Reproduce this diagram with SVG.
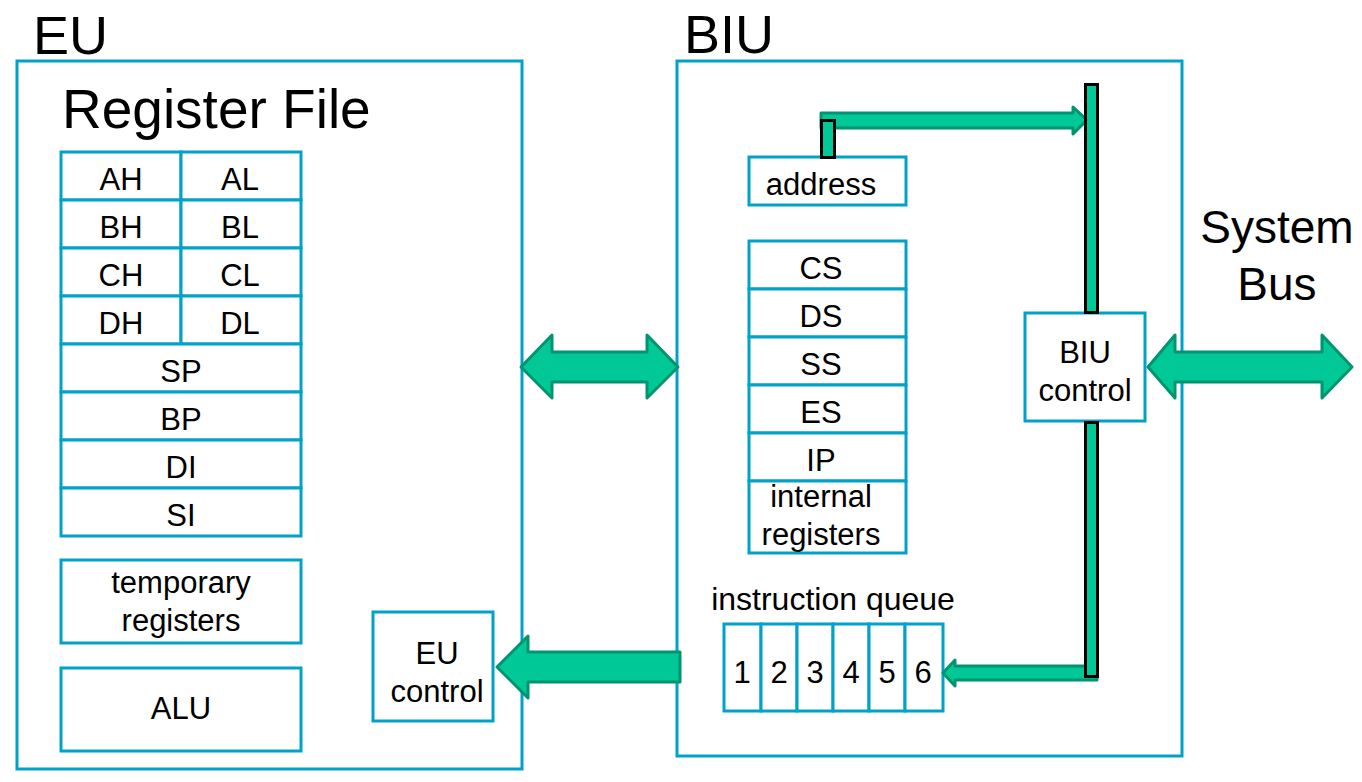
<svg xmlns="http://www.w3.org/2000/svg" width="1362" height="782" viewBox="0 0 1362 782">
<style>
.box{fill:#fff;stroke:#00A2C8;stroke-width:3}
.t{font-family:"Liberation Sans",Arial,sans-serif;font-size:31px;fill:#000;text-anchor:middle}
.big{font-family:"Liberation Sans",Arial,sans-serif;font-size:54px;fill:#000}
.arr{fill:#00C896;stroke:#009470;stroke-width:3;stroke-linejoin:round}
.bus{fill:#00C896;stroke:#000;stroke-width:3}
</style>
<rect width="1362" height="782" fill="#fff"/>
<g id="eu">
<rect class="box" x="17" y="61" width="505" height="708"/>
<text class="big" x="33" y="54">EU</text>
<text class="big" x="62" y="128" style="font-size:55px">Register File</text>
</g>
<g id="biu">
<rect class="box" x="677" y="61" width="505" height="695"/>
<text class="big" x="684" y="53">BIU</text>
</g>
<g id="regfile">
<rect class="box" x="61" y="152" width="120" height="48"/><rect class="box" x="181" y="152" width="120" height="48"/>
<rect class="box" x="61" y="200" width="120" height="48"/><rect class="box" x="181" y="200" width="120" height="48"/>
<rect class="box" x="61" y="248" width="120" height="48"/><rect class="box" x="181" y="248" width="120" height="48"/>
<rect class="box" x="61" y="296" width="120" height="48"/><rect class="box" x="181" y="296" width="120" height="48"/>
<rect class="box" x="61" y="344" width="240" height="48"/>
<rect class="box" x="61" y="392" width="240" height="48"/>
<rect class="box" x="61" y="440" width="240" height="48"/>
<rect class="box" x="61" y="488" width="240" height="48"/>
<text class="t" x="121" y="190">AH</text><text class="t" x="240" y="190">AL</text>
<text class="t" x="121" y="238">BH</text><text class="t" x="240" y="238">BL</text>
<text class="t" x="121" y="286">CH</text><text class="t" x="240" y="286">CL</text>
<text class="t" x="121" y="334">DH</text><text class="t" x="240" y="334">DL</text>
<text class="t" x="181" y="382">SP</text>
<text class="t" x="181" y="430">BP</text>
<text class="t" x="181" y="478">DI</text>
<text class="t" x="181" y="526">SI</text>
</g>
<g id="temp">
<rect class="box" x="61" y="560" width="240" height="83"/>
<text class="t" x="181" y="593">temporary</text>
<text class="t" x="181" y="631">registers</text>
</g>
<g id="alu">
<rect class="box" x="61" y="668" width="240" height="83"/>
<text class="t" x="181" y="719">ALU</text>
</g>
<g id="eucontrol">
<rect class="box" x="373" y="612" width="120" height="109"/>
<text class="t" x="437" y="664">EU</text>
<text class="t" x="437" y="702">control</text>
</g>
<g id="address">
<rect class="box" x="749" y="157" width="157" height="48"/>
<text class="t" x="821" y="195">address</text>
</g>
<g id="segregs">
<rect class="box" x="749" y="241" width="157" height="48"/>
<rect class="box" x="749" y="289" width="157" height="48"/>
<rect class="box" x="749" y="337" width="157" height="48"/>
<rect class="box" x="749" y="385" width="157" height="48"/>
<rect class="box" x="749" y="433" width="157" height="48"/>
<rect class="box" x="749" y="481" width="157" height="72"/>
<text class="t" x="821" y="279">CS</text>
<text class="t" x="821" y="327">DS</text>
<text class="t" x="821" y="375">SS</text>
<text class="t" x="821" y="423">ES</text>
<text class="t" x="821" y="471">IP</text>
<text class="t" x="821" y="507">internal</text>
<text class="t" x="821" y="545">registers</text>
</g>
<g id="biucontrol">
<rect class="box" x="1025" y="313" width="120" height="108"/>
<text class="t" x="1085" y="363">BIU</text>
<text class="t" x="1085" y="401">control</text>
</g>
<g id="queue">
<text class="t" x="833" y="610" style="font-size:32px">instruction queue</text>
<rect class="box" x="724" y="624" width="37" height="87"/>
<rect class="box" x="761" y="624" width="36" height="87"/>
<rect class="box" x="797" y="624" width="36" height="87"/>
<rect class="box" x="833" y="624" width="36" height="87"/>
<rect class="box" x="869" y="624" width="36" height="87"/>
<rect class="box" x="905" y="624" width="38" height="87"/>
<text class="t" x="742" y="683">1</text>
<text class="t" x="779" y="683">2</text>
<text class="t" x="815" y="683">3</text>
<text class="t" x="851" y="683">4</text>
<text class="t" x="887" y="683">5</text>
<text class="t" x="923" y="683">6</text>
</g>
<g id="systembus">
<text class="t" x="1277" y="243" style="font-size:46px">System</text>
<text class="t" x="1277" y="300" style="font-size:46px">Bus</text>
</g>
<g id="connectors">
<path class="arr" d="M521,367 L552,335 L552,352 L647,352 L647,335 L678,367 L647,398 L647,382 L552,382 L552,398 Z"/>
<path class="arr" d="M1148,367 L1175,335 L1175,352 L1322,352 L1322,335 L1352,367 L1322,398 L1322,382 L1175,382 L1175,398 Z"/>
<path class="arr" d="M497,667 L528,636 L528,652 L680,652 L680,682 L528,682 L528,698 Z"/>
<path class="arr" d="M821,113 L1073,113 L1073,107 L1087,120 L1073,134 L1073,128 L821,128 Z"/>
<path class="arr" d="M1097,666 L1097,680 L955,680 L955,686 L943,673 L955,660 L955,666 Z"/>
<rect class="bus" x="821.5" y="120.5" width="13" height="37"/>
<rect class="bus" x="1085.5" y="84.5" width="12" height="228"/>
<rect class="bus" x="1085.5" y="422.5" width="12" height="254"/>
</g>
</svg>
